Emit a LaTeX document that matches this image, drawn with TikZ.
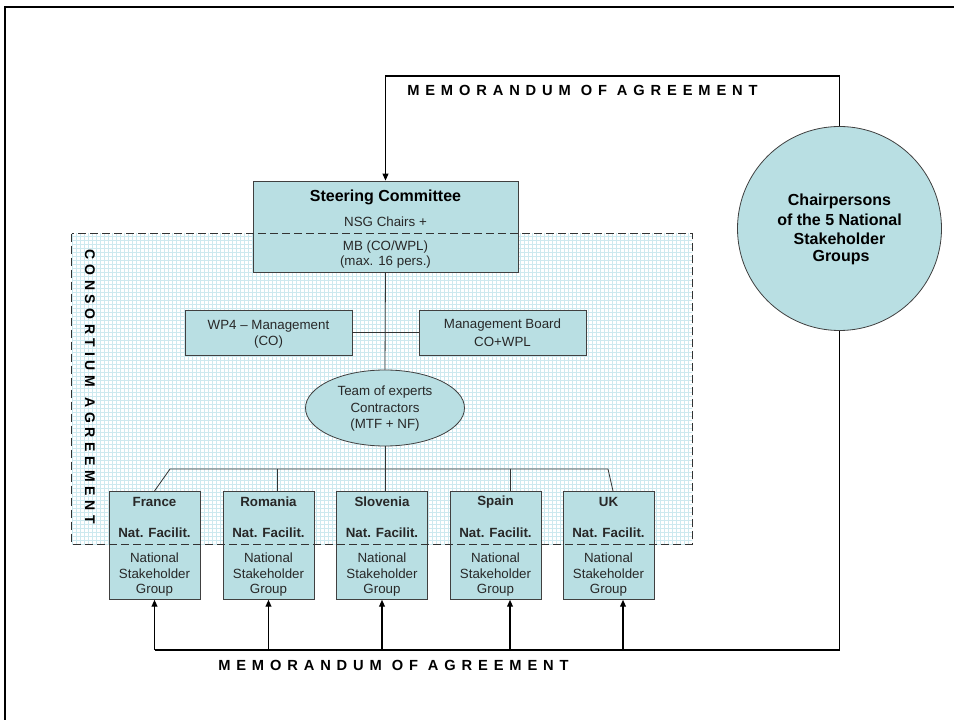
\documentclass[tikz,border=0pt]{standalone}
\usepackage{fontspec}
\setmainfont{Liberation Sans}
\usetikzlibrary{arrows.meta,patterns,shapes.geometric,fit,calc}
\definecolor{boxfill}{RGB}{185,223,227}
\definecolor{gridc}{RGB}{205,233,239}
\definecolor{txtc}{RGB}{40,40,40}
\begin{document}
\begin{tikzpicture}[x=0.75pt,y=-0.75pt,
  box/.style={draw=black!75, line width=0.6pt, fill=boxfill, inner sep=0pt},
  conn/.style={draw=black!80, line width=0.6pt},
  moaline/.style={draw=black, line width=0.9pt},
  arr/.style={moaline, -{Triangle[length=5.2pt,width=4.4pt]}},
  txt/.style={inner sep=0pt, text=txtc, font=\fontsize{10}{12}\selectfont},
  btxt/.style={inner sep=0pt, text=txtc, font=\fontsize{10}{12}\selectfont\bfseries},
  bigtxt/.style={inner sep=0pt, text=black, font=\fontsize{12}{14}\selectfont\bfseries},
  moatxt/.style={inner sep=0pt, text=black, font=\fontsize{11}{13}\selectfont\bfseries\addfontfeature{LetterSpace=40}},
  constxt/.style={inner sep=0pt, text=black, font=\fontsize{10.5}{12}\selectfont\bfseries\addfontfeature{LetterSpace=33}}
]
\useasboundingbox (0,0) rectangle (954,720);
\fill[white] (0,0) rectangle (954,720);
% outer frame (only top and left edges are inside the picture)
\draw[line width=1.5pt] (5,730) -- (5,7) -- (960,7);

% consortium area (pattern fill)
\node[inner sep=0pt, pattern=grid, pattern color=gridc, fit={(72,234) (692,544)}] (cons) {};

% steering committee
\node[box, fit={(253,181) (518,272)}] (sc) {};
\node[bigtxt] (sc1) at (385.5,197) {Steering Committee};
\node[txt] (sc2) at (385.5,222) {NSG Chairs +};
\node[txt] (sc3) at (385.5,247) {MB (CO/WPL)};
\node[txt] (sc4) at (385.5,262) {(max. 16 pers.)};

% WP4 and management board
\node[box, fit={(185,310) (352,355)}] (wp4) {};
\node[txt] (wp4a) at (268.5,326) {WP4 -- Management};
\node[txt] (wp4b) at (268.5,342) {(CO)};
\node[box, fit={(419,310) (586,355)}] (mb) {};
\node[txt] (mba) at (502.5,325) {Management Board};
\node[txt] (mbb) at (502.5,342) {CO+WPL};

% team of experts
\node[box, ellipse, minimum width=119.25pt, minimum height=57pt] (team) at (385,408) {};
\node[txt] (tm1) at (385,392) {Team of experts};
\node[txt] (tm2) at (385,408) {Contractors};
\node[txt] (tm3) at (385,425) {(MTF + NF)};

% chairpersons circle
\node[box, circle, minimum size=153pt] (chair) at (839.5,228.5) {};
\node[bigtxt] (ch1) at (839.5,201) {Chairpersons};
\node[bigtxt] (ch2) at (839.5,220) {of the 5 National};
\node[bigtxt] (ch3) at (839.5,239) {Stakeholder};
\node[bigtxt] (ch4) at (841,258) {Groups};

% country boxes
\foreach \id/\x/\name in {fr/154.5/France,ro/268.5/Romania,sl/382/Slovenia,es/495.5/Spain,uk/608.5/UK}{
  \node[box, minimum width=68.25pt, minimum height=81pt, anchor=north] (\id) at (\x,491) {};
  \node[btxt] (\id-name) at (\x,502) {\name};
  \node[btxt] (\id-nf) at (\x,533) {Nat. Facilit.};
  \node[txt] (\id-l1) at (\x,558) {National};
  \node[txt] (\id-l2) at (\x,574) {Stakeholder};
  \node[txt] (\id-l3) at (\x,590) {Group};
}

% internal connectors
\draw[conn] (sc.south) -- (team.north);
\draw[conn] (wp4.east) -- (mb.west);
\coordinate (dl) at (170,469);
\coordinate (dr) at (608,469);
\draw[conn] (fr.north) -- (dl) -- (dr) -- ($(uk.north)+(4.5,0)$);
\draw[conn] (team.south) -- (team.south |- sl.north);
\draw[conn] (277,469) -- ($(ro.north)+(8.5,0)$);
\draw[conn] (510,469) -- ($(es.north)+(14.5,0)$);

% consortium dashed border (drawn on top)
\draw[black!80, line width=0.8pt, dash pattern=on 6pt off 3pt] (cons.north west) rectangle (cons.south east);
\node[constxt, rotate=-90] (constext) at (90,387) {CONSORTIUM\hspace{8pt}AGREEMENT};

% memorandum of agreement, top
\coordinate (tl) at (385.5,76);
\draw[arr] (chair.north) -- (chair.north |- tl) -- (tl) -- (sc.north);
\node[moatxt, anchor=west] (moatop) at (407,90) {MEMORANDUM OF AGREEMENT};

% memorandum of agreement, bottom
\coordinate (bl) at (154.5,650);
\draw[moaline] (chair.south) -- (chair.south |- bl) -- (bl);
\draw[arr] (bl) -- (fr.south);
\draw[arr] (ro.south |- bl) -- (ro.south);
\draw[arr] (sl.south |- bl) -- (sl.south);
\draw[arr] ($(es.south |- bl)+(14.5,0)$) -- ($(es.south)+(14.5,0)$);
\draw[arr] ($(uk.south |- bl)+(14.5,0)$) -- ($(uk.south)+(14.5,0)$);
\node[moatxt, anchor=west] (moabot) at (218,665) {MEMORANDUM OF AGREEMENT};
\end{tikzpicture}
\end{document}
